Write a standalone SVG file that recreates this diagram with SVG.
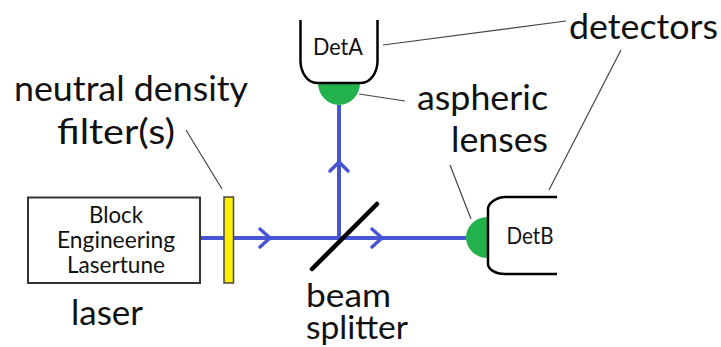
<svg xmlns="http://www.w3.org/2000/svg" width="721" height="347" viewBox="0 0 721 347">
<style>
text{font-family:"Lato","Open Sans","Liberation Sans",sans-serif;fill:#111}
.big{font-size:35px}
.tight{font-size:32px}
.small{font-size:22.500px;text-anchor:middle}
.beam{stroke:#4655d6;stroke-width:4;fill:none}
.head{stroke:#4655d6;stroke-width:3.500;fill:none;stroke-linejoin:round;stroke-linecap:round}
.lead{stroke:#444;stroke-width:1.200;fill:none}
.det{stroke:#000;stroke-width:2.500;fill:none}
.lens{fill:#22b14c}
</style>
<rect width="721" height="347" fill="#fff"/>
<g id="connectors">
<path class="beam" d="M200 238H466M339 238V105"/>
<path class="head" d="M260 229L270 238L260 247M372 229L382 238L372 247M330 171L339 162L348 171"/>
<path class="lead" d="M383 45L566 21M359 94L405 101M549 190L621 50M471 219L450 165M222 189L186 130"/>
</g>
<g id="laser"><rect x="28" y="197.500" width="172" height="85.500" fill="#fff" stroke="#333" stroke-width="2"/>
<text class="small" x="116" y="223" textLength="54" lengthAdjust="spacingAndGlyphs">Block</text><text class="small" x="116" y="248" textLength="118" lengthAdjust="spacingAndGlyphs">Engineering</text><text class="small" x="116" y="273" textLength="98" lengthAdjust="spacingAndGlyphs">Lasertune</text></g>
<g id="filter"><rect x="224" y="197" width="9.500" height="86" fill="#ffee00" stroke="#444" stroke-width="1.500"/></g>
<g id="splitter"><path d="M312 269L377 204" stroke="#000" stroke-width="4.500" stroke-linecap="round"/></g>
<g id="lensA"><path class="lens" d="M318 83H360A21 22 0 0 1 318 83Z"/></g>
<g id="detA"><path class="det" d="M300.500 20V62C301 72 307 83 317 83H361C371 83 377 72 377.500 62V20"/>
<text class="small" x="338" y="55" textLength="50" lengthAdjust="spacingAndGlyphs">DetA</text></g>
<g id="lensB"><path class="lens" d="M487.500 217V258A21.500 20.500 0 0 1 487.500 217Z"/></g>
<g id="detB"><path class="det" d="M557 197H505C497 197 488 203 488 209V264C488 269 495 274 505 274H557"/>
<text class="small" x="530" y="244" textLength="47" lengthAdjust="spacingAndGlyphs">DetB</text></g>
<g id="labels">
<text class="big" x="14" y="101" textLength="234" lengthAdjust="spacingAndGlyphs">neutral density</text>
<text class="big" x="57" y="144" textLength="118" lengthAdjust="spacingAndGlyphs">filter(s)</text>
<text class="big" x="71" y="325" textLength="72" lengthAdjust="spacingAndGlyphs">laser</text>
<text class="tight" x="306" y="307" textLength="85" lengthAdjust="spacingAndGlyphs">beam</text>
<text class="tight" x="306" y="339" textLength="102" lengthAdjust="spacingAndGlyphs">splitter</text>
<text class="big" x="417" y="110" textLength="131" lengthAdjust="spacingAndGlyphs">aspheric</text>
<text class="big" x="451" y="152" textLength="97" lengthAdjust="spacingAndGlyphs">lenses</text>
<text class="big" x="569" y="39" textLength="149" lengthAdjust="spacingAndGlyphs">detectors</text>
</g>
</svg>
